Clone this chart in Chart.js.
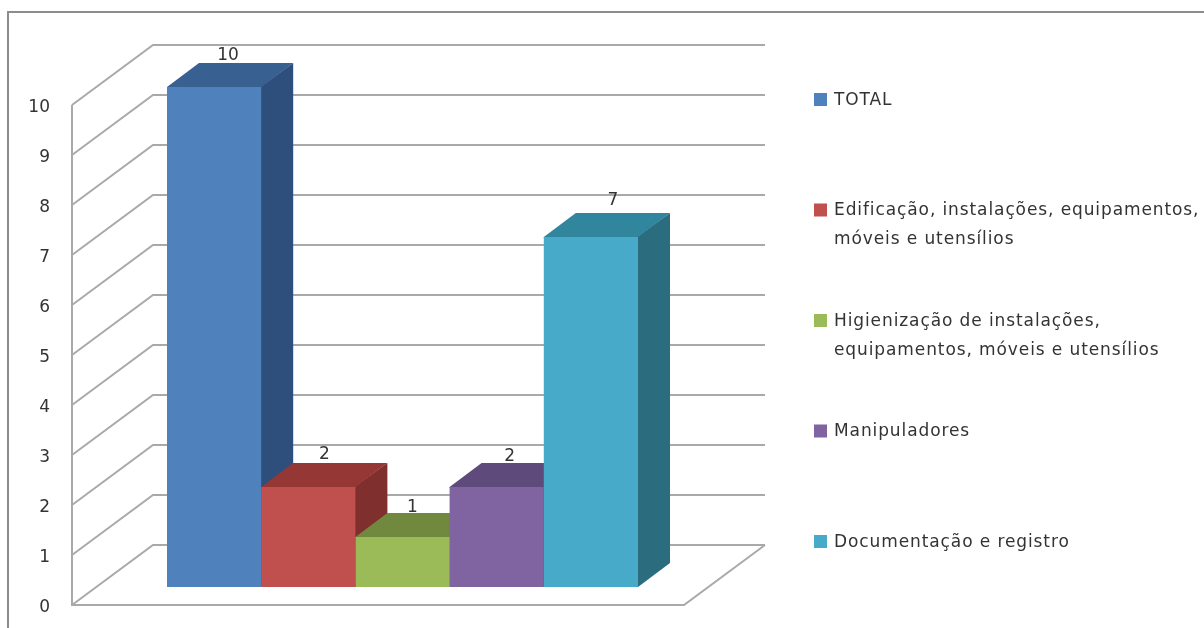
<!DOCTYPE html>
<html lang="pt">
<head>
<meta charset="utf-8">
<title>Grafico de colunas</title>
<script src="https://cdn.jsdelivr.net/npm/chart.js@4/dist/chart.umd.min.js"></script>
<style>
    html, body { margin: 0; padding: 0; background: #fff; overflow: hidden; }
    canvas { display: block; }
</style>
</head>
<body>
<canvas id="grafico" width="1204" height="628"></canvas>
<script>
// Valores de cada serie
const seriesLabels = [
    ['TOTAL'],
    ['Edificação, instalações, equipamentos,', 'móveis e utensílios'],
    ['Higienização de instalações,', 'equipamentos, móveis e utensílios'],
    ['Manipuladores'],
    ['Documentação e registro']
];
const seriesValues = [10, 2, 1, 2, 7];
const yTicks = [0, 1, 2, 3, 4, 5, 6, 7, 8, 9, 10];

// Cores das faces: frente, topo e lateral
const frontColors = ['#4f81bd', '#c0504d', '#9bbb59', '#8064a2', '#46aac8'];
const topColors = ['#386090', '#953735', '#71893f', '#5f4a7c', '#31859c'];
const sideColors = ['#2e4f7c', '#7f2f2d', '#5f7530', '#4f3d69', '#2b6c7f'];

// Geometria da perspectiva
const UNIT = 50;              // pixels por unidade no eixo y
const PLOT_HEIGHT = 561;
const WALL_DEPTH = { x: 81, y: 60 };
const BAR_DEPTH = { x: 32, y: 24 };
const BAR_LIFT = 18;          // base das colunas acima da borda do piso
const WALL_RIGHT = 765;
const GRID_COLOR = '#a9a9a9';
const TEXT_COLOR = '#333333';
const FONT = '"DejaVu Sans", sans-serif';
const FONT_SIZE = 17;

// Ajuste fino dos rotulos de valor em relacao ao topo de cada coluna
const labelShift = [[14, -7], [16, -8], [10, -5.5], [13, -6], [22, -12]];

// Paredes e piso por tras das colunas
const wallsPlugin = {
    id: 'walls',
    beforeDatasetsDraw(chart) {
        const { ctx, chartArea, scales } = chart;
        const left = chartArea.left;
        const y0 = scales.y.getPixelForValue(0);
        ctx.save();
        ctx.strokeStyle = GRID_COLOR;
        ctx.lineWidth = 2;

        // moldura externa
        ctx.beginPath();
        ctx.moveTo(8, chart.height);
        ctx.lineTo(8, 12);
        ctx.lineTo(chart.width, 12);
        ctx.strokeStyle = '#8c8c8c';
        ctx.stroke();
        ctx.strokeStyle = GRID_COLOR;

        yTicks.forEach(v => {
            const y = scales.y.getPixelForValue(v);
            ctx.beginPath();
            ctx.moveTo(left, y);
            ctx.lineTo(left + WALL_DEPTH.x, y - WALL_DEPTH.y);
            ctx.lineTo(WALL_RIGHT, y - WALL_DEPTH.y);
            ctx.stroke();
        });

        // eixo frontal e borda do piso
        ctx.beginPath();
        ctx.moveTo(left, scales.y.getPixelForValue(yTicks[yTicks.length - 1]));
        ctx.lineTo(left, y0);
        ctx.lineTo(WALL_RIGHT - WALL_DEPTH.x, y0);
        ctx.lineTo(WALL_RIGHT, y0 - WALL_DEPTH.y);
        ctx.stroke();
        ctx.restore();

        // topo e lateral das colunas, da esquerda para a direita;
        // as faces entram 1px sob a frente para nao deixar emenda
        chart.data.datasets.forEach((ds, i) => {
            const bar = chart.getDatasetMeta(i).data[0];
            const half = bar.width / 2;
            const x1 = bar.x - half, x2 = bar.x + half;
            const dx = BAR_DEPTH.x, dy = BAR_DEPTH.y;
            ctx.fillStyle = sideColors[i];
            ctx.beginPath();
            ctx.moveTo(x2 - 1, bar.y);
            ctx.lineTo(x2 + dx, bar.y - dy);
            ctx.lineTo(x2 + dx, bar.base - dy);
            ctx.lineTo(x2, bar.base);
            ctx.lineTo(x2 - 1, bar.base);
            ctx.closePath();
            ctx.fill();
            ctx.fillStyle = topColors[i];
            ctx.beginPath();
            ctx.moveTo(x1, bar.y + 1);
            ctx.lineTo(x1, bar.y);
            ctx.lineTo(x1 + dx, bar.y - dy);
            ctx.lineTo(x2 + dx, bar.y - dy);
            ctx.lineTo(x2, bar.y);
            ctx.lineTo(x2, bar.y + 1);
            ctx.closePath();
            ctx.fill();
        });
    }
};

// Rotulos de valor e legenda
const annotationsPlugin = {
    id: 'annotations',
    afterDatasetsDraw(chart) {
        const { ctx } = chart;
        ctx.save();
        ctx.textBaseline = 'middle';
        ctx.fillStyle = TEXT_COLOR;
        ctx.font = FONT_SIZE + 'px ' + FONT;
        ctx.textAlign = 'center';
        chart.data.datasets.forEach((ds, i) => {
            const bar = chart.getDatasetMeta(i).data[0];
            const [sx, sy] = labelShift[i];
            ctx.fillText(String(ds.data[0]), bar.x + sx, bar.y - BAR_DEPTH.y + sy);
        });

        ctx.textAlign = 'left';
        ctx.letterSpacing = '0.9px';
        chart.data.datasets.forEach((ds, i) => {
            const y = 99 + i * 110.5;
            ctx.fillStyle = frontColors[i];
            ctx.fillRect(814, y - 6, 13, 13);
            ctx.fillStyle = TEXT_COLOR;
            seriesLabels[i].forEach((line, n) => {
                ctx.fillText(line, 834, y + 1.5 + n * 29);
            });
        });
        ctx.restore();
    }
};

new Chart(document.getElementById('grafico'), {
    type: 'bar',
    data: {
        labels: [''],
        datasets: seriesValues.map((value, i) => ({
            label: seriesLabels[i].join(' '),
            data: [value],
            yAxisID: 'yBars',
            backgroundColor: frontColors[i],
            barPercentage: 1,
            categoryPercentage: 471 / 661
        }))
    },
    options: {
        responsive: false,
        animation: false,
        layout: { padding: { left: 0, right: 471, top: 44, bottom: 23 } },
        plugins: { legend: { display: false }, tooltip: { enabled: false } },
        scales: {
            x: { display: false },
            // eixo visivel, no plano frontal do grafico
            y: {
                min: 0,
                max: PLOT_HEIGHT / UNIT,
                afterBuildTicks: axis => { axis.ticks = yTicks.map(v => ({ value: v })); },
                afterFit: axis => { axis.width = 72; },
                // o tickLength afasta os numeros do eixo sem reduzir a area do grafico
                grid: { display: false, drawTicks: true, tickLength: 22 },
                border: { display: false },
                ticks: {
                    padding: 0,
                    labelOffset: 3,
                    color: TEXT_COLOR,
                    font: { family: FONT, size: FONT_SIZE }
                }
            },
            // mesma escala deslocada para o plano das colunas
            yBars: {
                display: false,
                min: -BAR_LIFT / UNIT,
                max: (PLOT_HEIGHT - BAR_LIFT) / UNIT
            }
        }
    },
    plugins: [wallsPlugin, annotationsPlugin]
});
</script>
</body>
</html>
